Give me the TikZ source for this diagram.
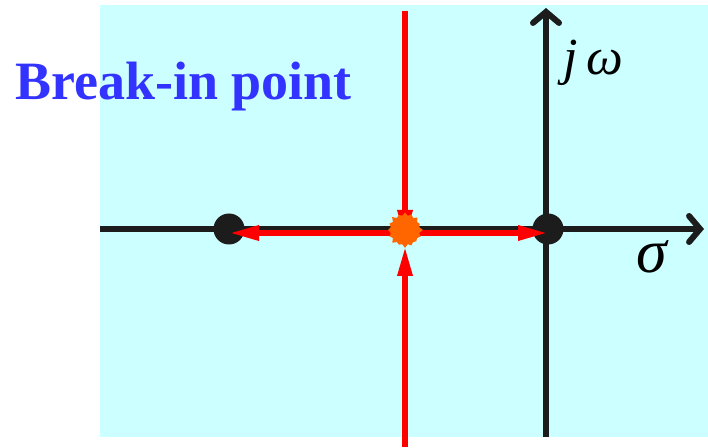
\documentclass[tikz,border=0pt]{standalone}
\usepackage{fontspec}
\setmainfont{Liberation Serif}
\usetikzlibrary{arrows.meta,shapes.symbols}
\definecolor{bgcyan}{HTML}{CCFFFF}
\definecolor{axisgray}{HTML}{1C1C1C}
\definecolor{brkorange}{HTML}{FF6600}
\definecolor{titleblue}{HTML}{3333FF}
\tikzset{
  axis/.style={line width=6pt, draw=axisgray, -{Straight Barb[length=11pt, width=26pt, line width=6pt, line cap=round]}},
  locus/.style={line width=6pt, draw=red, -{Triangle[length=30pt, width=14pt]}},
  pole/.style={circle, fill=axisgray, minimum size=31pt, inner sep=0pt},
  brk/.style={starburst, starburst points=16, starburst point height=4pt, fill=brkorange, minimum size=37pt, inner sep=0pt},
}

\begin{document}
\begin{tikzpicture}[x=1pt, y=1pt]
  \useasboundingbox (0,0) rectangle (708,447);
  \fill[bgcyan] (100,10) rectangle (708,442);
  % axes
  \coordinate (xl) at (100,218); \coordinate (xr) at (704,218);
  \coordinate (yb) at (546,10); \coordinate (yt) at (546,439);
  \draw[axis] (xl) -- (xr);
  \draw[axis] (yb) -- (yt);
  % poles and break-in point
  \node[pole] (p1) at (229,218) {};
  \node[pole] (p2) at (548,218) {};
  \coordinate (b) at (405,214);
  \coordinate (vt) at (405,436); \coordinate (vb) at (405,0);
  \draw[locus] (b) -- (p1.center |- b);
  \draw[locus] (b) -- (p2.center |- b);
  \draw[locus] (vt) -- (405,207);
  \draw[locus] (vb) -- (405,201);
  \node[brk] (bk) at (405,217) {};
  % labels
  \node[anchor=base west, inner sep=0pt, font=\fontsize{54}{60}\selectfont\bfseries, text=titleblue] (title) at (15,347) {Break-in point};
  \node[anchor=base west, inner sep=0pt, font=\fontsize{52}{60}\selectfont\itshape] (jw) at (563,372) {j\,ω};
  \node[anchor=base west, inner sep=0pt, font=\fontsize{62}{70}\selectfont\itshape] (sig) at (636,175) {σ};
\end{tikzpicture}
\end{document}
